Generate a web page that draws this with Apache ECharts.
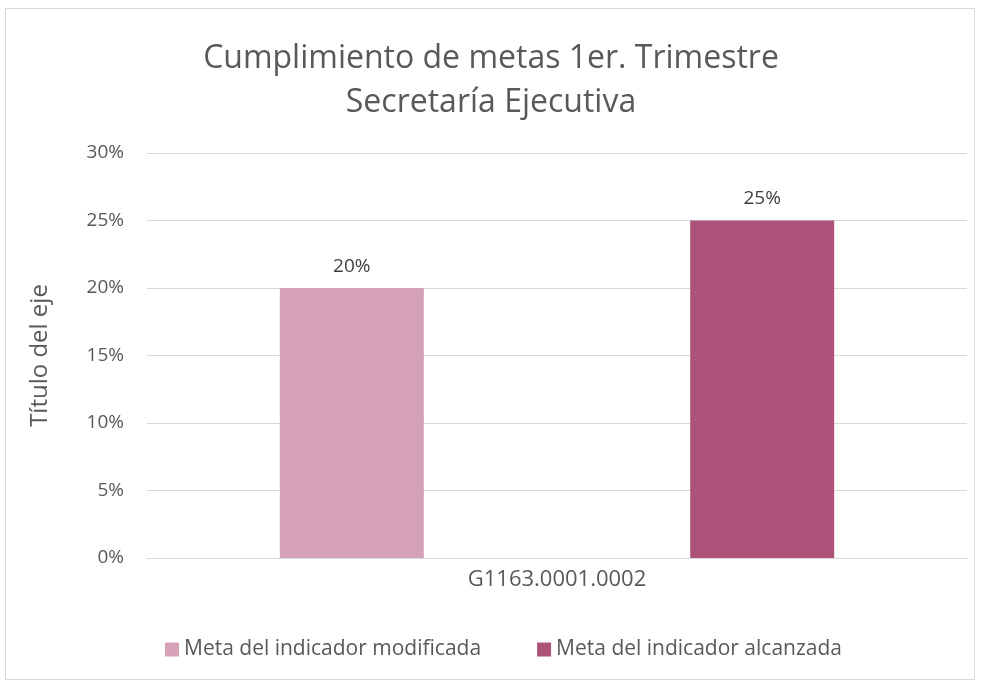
<!DOCTYPE html>
<html>
<head>
<meta charset="utf-8">
<script src="https://cdn.jsdelivr.net/npm/echarts@6/dist/echarts.min.js"></script>
<style>
html, body { margin: 0; padding: 0; background: #fff; }
#frame { position: absolute; left: 5px; top: 8px; width: 970px; height: 672px; border: 1px solid #d9d9d9; box-sizing: border-box; }
#chart { position: absolute; left: 0; top: 0; width: 982px; height: 685px; }
</style>
</head>
<body>
<div id="frame"></div>
<div id="chart"></div>
<script>
// datos de la grafica
const categories = ['G1163.0001.0002']
const seriesNames = ['Meta del indicador modificada', 'Meta del indicador alcanzada']
const modificada = [20]
const alcanzada = [25]
const colorArr = ['#D4A1B8', '#AD5379']

const font = 'Open Sans, sans-serif'
const myChart = echarts.init(document.getElementById('chart'))

const pctLabel = {
    show: true,
    position: 'top',
    distance: 12,
    color: '#404040',
    fontSize: 19,
    fontFamily: font,
    formatter: p => p.value + '%'
}

const option = {
    backgroundColor: 'transparent',
    title: {
        text: 'Cumplimiento de metas 1er. Trimestre\nSecretaría Ejecutiva',
        left: 'center',
        top: 32,
        textStyle: {
            color: '#595959',
            fontSize: 32,
            fontWeight: 'normal',
            fontFamily: font,
            lineHeight: 44
        }
    },
    legend: {
        bottom: 20,
        left: 160,
        itemWidth: 14,
        itemHeight: 14,
        itemGap: 56,
        icon: 'rect',
        textStyle: {
            color: '#595959',
            fontSize: 21,
            fontFamily: font
        },
        data: seriesNames
    },
    grid: {
        left: 147,
        right: 15,
        top: 153,
        bottom: 127,
        containLabel: false
    },
    xAxis: {
        type: 'category',
        data: categories,
        axisTick: { show: false },
        axisLine: { lineStyle: { color: '#d9d9d9', width: 1 } },
        axisLabel: {
            color: '#595959',
            fontSize: 22,
            fontFamily: font,
            margin: 11
        }
    },
    yAxis: {
        type: 'value',
        min: 0,
        max: 30,
        interval: 5,
        name: 'Título del eje',
        nameLocation: 'middle',
        nameGap: 95,
        nameTextStyle: {
            color: '#595959',
            fontSize: 24,
            fontFamily: font
        },
        axisLine: { show: false },
        axisTick: { show: false },
        splitLine: { lineStyle: { color: '#d9d9d9', width: 1 } },
        axisLabel: {
            color: '#595959',
            fontSize: 19,
            fontFamily: font,
            margin: 23,
            formatter: v => v + '%'
        }
    },
    series: [
        {
            name: seriesNames[0],
            type: 'bar',
            barWidth: 144,
            barGap: '185%',
            itemStyle: { color: colorArr[0] },
            label: pctLabel,
            data: modificada
        },
        {
            name: seriesNames[1],
            type: 'bar',
            barWidth: 144,
            barGap: '185%',
            itemStyle: { color: colorArr[1] },
            label: pctLabel,
            data: alcanzada
        }
    ]
}
myChart.setOption(option, true)
</script>
</body>
</html>
